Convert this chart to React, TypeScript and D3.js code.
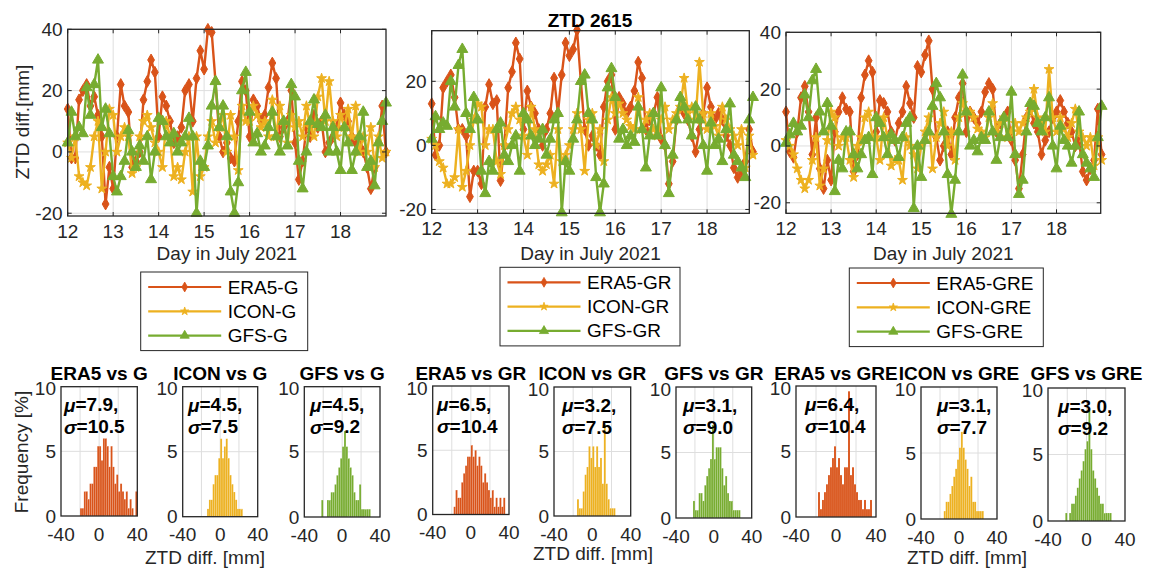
import React from "react";
import * as d3 from "d3";

// ---------------- DATA ----------------
const startDay = 12;
const stepHours = 2;
const dayTicks = [12, 13, 14, 15, 16, 17, 18];
const panelNames = ["G", "GR", "GRE"];
const modelNames = ["ERA5", "ICON", "GFS"];

// ZTD differences [mm], every 2 hours from 12 July 00:00
const era5G = [14,-2,-2,17,20,22,15,18,12,5, -17,-5,-12,5,22,15,13,-5,-3,0, 17,23,30,26,5,18,15,10,3,5, 8,20,22,10,24,33,27,40,39,23, 5,0,3,-2,-3,10,23,20,5,17, 15,10,12,21,29,24,5,8,10,20, 3,-9,-3,8,5,12,8,10,0,3, 5,8,16,12,10,5,3,2,0,-5, -12,-5,3,15,0];
const iconG = [3,-2,5,-8,-10,-11,-5,5,10,-12, 0,14,12,0,5,8,5,-7,-5,5, 10,12,8,3,0,-5,10,5,-8,-5, -9,0,5,-13,5,-8,-5,5,10,3, 8,12,0,12,5,-6,15,10,10,15, 12,8,10,5,17,5,15,10,3,12, 8,10,5,15,8,5,18,24,10,23, 10,5,12,8,14,5,15,0,5,0, 8,-5,5,-2,0];
const gfsG = [3,13,5,8,6,21,12,22,30,8, 14,6,-8,-13,-8,-3,7,0,-5,2, -3,5,-9,0,11,10,5,3,6,0, 3,5,11,5,-20,-3,-5,2,15,23, 8,15,5,-13,-20,-10,20,26,13,3, 6,0,2,8,13,5,0,10,2,22, 18,-3,-12,0,10,17,9,8,12,0, 8,0,-6,8,3,-6,0,5,13,-5, -3,-11,3,10,16];

const era5GR = [13,-3,0,18,20,22,15,5,5,3, -16,-8,-8,-12,12,19,13,14,-11,0, 18,23,32,27,5,17,12,10,5,0, 5,10,21,10,22,32,28,30,36,20, 5,0,3,0,-3,12,20,22,5,15, 13,10,12,17,26,21,5,8,10,15, 2,0,-12,-5,8,12,10,8,3,-2, 5,10,18,12,8,10,8,3,0,-7, -10,-8,-5,5,-2];
const iconGR = [2,0,-5,-7,-12,-12,-10,5,-13,-8, 0,8,13,12,0,5,5,-5,-9,0, 5,10,12,8,3,-3,12,5,-6,-8, -6,-3,-12,5,-5,-3,0,5,10,5, -8,8,10,0,5,-5,8,15,10,13, 10,8,6,5,15,5,8,10,5,3, 8,12,5,8,10,12,21,10,12,8, 26,10,5,10,6,3,12,8,5,3, 0,5,-7,3,-3];
const gfsGR = [2,9,5,7,6,20,12,25,30,10, 5,15,8,-8,-15,-5,-8,5,7,-3, -5,0,3,-8,10,8,3,0,2,5, -3,2,8,10,-21,-5,-8,2,8,20, 22,10,8,-10,-21,-12,18,24,15,2, 5,0,3,1,12,5,-7,3,10,3, 18,0,-15,-3,8,15,12,8,3,12, 8,0,-8,7,0,2,-5,5,13,-3, -5,-7,-10,8,15];

const era5GRE = [12,-2,-4,5,17,21,12,-3,10,-8, -15,-5,-12,5,12,17,13,12,-9,-3, 17,25,30,26,5,16,15,12,5,2, 8,12,21,15,10,28,26,32,37,20, 3,-5,0,5,-3,10,17,22,5,12, 10,8,12,19,22,20,5,8,10,12, 2,-5,-15,-3,10,13,8,5,-3,2, 5,10,12,16,12,8,5,0,2,-9, -12,-8,-5,13,-3];
const iconGRE = [2,0,-3,-8,-12,-15,-12,-5,3,-14, -8,2,12,10,0,3,3,-5,-11,0, 3,10,12,3,3,-5,10,3,-7,-5, -5,-12,3,0,-3,-8,0,5,10,-8, 3,8,12,0,5,-5,10,15,12,12, 10,6,5,3,10,15,5,8,10,3, 5,8,5,8,10,12,20,10,8,5, 27,10,5,10,6,3,8,13,5,3, 0,3,-7,3,-5];
const gfsGRE = [1,4,8,5,7,18,10,23,27,12, 5,15,7,-16,-5,-8,5,5,-3,-8, -3,2,3,-10,10,8,3,-3,4,2, -4,3,8,10,-22,0,-11,2,5,14, 22,17,5,-10,-24,-12,5,25,12,0, 2,-2,3,2,12,5,-5,3,10,3, 19,-3,-17,-12,5,15,14,8,5,10, 17,0,-8,7,2,0,-6,0,12,-3, -6,-8,-11,3,14];

// Histograms: frequency [%] in 2 mm bins, first bin lower edge given
const histBinWidth = 2;
const histStartEdges = [[-20, -14, -22], [-18, -16, -22], [-18, -16, -22]];
const histEra5G = [0.6,0.6,1.9,1.9,1.3,2.5,2.5,3.8,3.8,5.4, 5.4,4.3,6.0,6.0,5.4,3.8,5.4,3.8,2.5,3.2, 1.9,2.5,1.9,1.3,1.9,0.6,1.3,0.6,0,1.9];
const histIconG = [0.6,1.3,1.3,2.5,3.2,3.2,4.5,6.0,4.5,5.4, 6.0,4.5,3.2,2.5,1.9,1.3,0.6,0.6,0.6];
const histGfsG = [1.3,0,0,1.3,1.3,1.9,1.9,2.5,3.2,3.8, 4.5,5.4,6.6,5.4,4.5,3.8,3.2,1.9,1.3,1.3, 2.5,0.6,0.6,0.6,0.6,0.6];
const histEra5GR = [0.6,1.9,1.3,1.3,2.5,3.2,3.8,4.5,4.5,5.4, 4.5,5.0,3.8,4.5,3.8,2.5,3.2,2.5,1.9,1.3, 1.9,0.6,1.3,0.6,1.3,0.6,1.3];
const histIconGR = [1.3,0.6,0.6,1.9,3.2,3.8,5.4,4.5,5.4,3.8, 5.4,3.8,4.5,2.5,7.1,2.5,1.3,0.6,0.6,0.6];
const histGfsGR = [1.3,0.6,0.6,1.9,1.9,1.3,2.5,3.2,3.8,4.5, 7.1,4.5,5.4,5.4,5.4,3.8,2.5,3.2,1.9,1.3, 1.3,0.6,0.6,0.6,0.6];
const histEra5GRE = [1.9,0.6,1.3,1.9,2.5,3.2,3.8,4.5,5.4,3.8, 4.5,3.2,2.5,3.8,3.8,9.6,3.2,3.8,2.5,1.9, 1.3,1.3,0.6,1.3,0.6,0.6,1.3];
const histIconGRE = [0.6,1.3,1.3,1.9,2.5,3.2,3.8,4.5,5.4,6.6, 5.4,4.5,3.8,2.5,3.2,1.3,1.3,0.6,0.6,0.6,0.6];
const histGfsGRE = [0.6,0,0.6,1.3,1.3,1.9,2.5,3.2,3.8,4.5, 5.4,6.0,8.3,5.4,3.8,3.2,2.5,1.9,1.3,1.3, 0.6,0.6,0.6,0.6];

const histMu = [[7.9, 4.5, 4.5], [6.5, 3.2, 3.1], [6.4, 3.1, 3.0]];
const histSigma = [[10.5, 7.5, 9.2], [10.4, 7.5, 9.0], [10.4, 7.7, 9.2]];
const histXTicks = [-40, 0, 40];
const histXGrid = [-20, 0, 20];
const histYTicks = [0, 5, 10];

// ---------------- STYLE / LAYOUT ----------------
const FONT = "'Liberation Sans', Arial, Helvetica, sans-serif";
const AX = "#262626";
const GRID = "#dedede";
const COLORS = ["#D95319", "#EDB120", "#77AC30"];
const FS = 19;

const topSeries = [
  [era5G, iconG, gfsG],
  [era5GR, iconGR, gfsGR],
  [era5GRE, iconGRE, gfsGRE],
];
const histData = [
  [histEra5G, histIconG, histGfsG],
  [histEra5GR, histIconGR, histGfsGR],
  [histEra5GRE, histIconGRE, histGfsGRE],
];

const topBoxes = [
  { l: 67.7, r: 386, t: 29.3, b: 216, xMax: 19.0, yd: [-20.9, 40], yt: [-20, 0, 20, 40] },
  { l: 431.7, r: 749.3, t: 30.7, b: 213.3, xMax: 18.92, yd: [-21.2, 35.8], yt: [-20, 0, 20] },
  { l: 786, r: 1100.7, t: 32.3, b: 213.3, xMax: 18.98, yd: [-23.7, 40], yt: [-20, 0, 20, 40] },
];
const legendBoxes = [
  { l: 140.7, t: 272, w: 167 },
  { l: 500, t: 267.3, w: 180 },
  { l: 849.3, t: 268, w: 194 },
];
const histBoxes = [
  [{ l: 61, r: 137.3, t: 386.7, b: 516, tx: 64 }, { l: 182.7, r: 257.7, t: 386.7, b: 516.7, tx: 188 }, { l: 304.3, r: 380, t: 386.7, b: 517, tx: 310 }],
  [{ l: 432.7, r: 509, t: 386, b: 514.5, tx: 437 }, { l: 554, r: 630.7, t: 387, b: 516, tx: 562 }, { l: 676, r: 751.7, t: 387, b: 518, tx: 683 }],
  [{ l: 796, r: 876, t: 386, b: 517, tx: 805 }, { l: 921, r: 997, t: 387, b: 519, tx: 937 }, { l: 1048, r: 1125, t: 388, b: 521, tx: 1058 }],
];
const groupXLabels = [{ x: 205, y: 557 }, { x: 593, y: 553 }, { x: 967, y: 557 }];

const symbolTypes = [d3.symbolDiamond, d3.symbolStar, d3.symbolTriangle];
const symbolSizes = [40, 30, 52];

function marker(k: number, scale = 1) {
  return d3.symbol(symbolTypes[k], symbolSizes[k] * scale)() as string;
}

function TopPanel({ p }: { p: number }) {
  const box = topBoxes[p];
  const x = d3.scaleLinear().domain([startDay, box.xMax]).range([box.l, box.r]);
  const y = d3.scaleLinear().domain(box.yd).range([box.b, box.t]);
  const tOf = (i: number) => startDay + (i * stepHours) / 24;
  const line = d3
    .line<number>()
    .x((_, i) => x(tOf(i)))
    .y((d) => y(d));
  return (
    <g>
      {dayTicks.slice(1).map((d) => (
        <line key={"gx" + d} x1={x(d)} x2={x(d)} y1={box.t} y2={box.b} stroke={GRID} strokeWidth={1} />
      ))}
      {box.yt.map((v) => (
        <line key={"gy" + v} x1={box.l} x2={box.r} y1={y(v)} y2={y(v)} stroke={GRID} strokeWidth={1} />
      ))}
      {topSeries[p].map((s, k) => (
        <g key={"s" + k}>
          <path d={line(s) as string} fill="none" stroke={COLORS[k]} strokeWidth={2.4} strokeLinejoin="round" />
          {s.map((v, i) => (
            <path key={i} d={marker(k)} transform={`translate(${x(tOf(i))},${y(v)})`} fill={COLORS[k]} stroke={COLORS[k]} strokeWidth={1} />
          ))}
        </g>
      ))}
      <rect x={box.l} y={box.t} width={box.r - box.l} height={box.b - box.t} fill="none" stroke={AX} strokeWidth={1.3} />
      {dayTicks.map((d) => (
        <g key={"tx" + d}>
          <line x1={x(d)} x2={x(d)} y1={box.b} y2={box.b - 4} stroke={AX} />
          <line x1={x(d)} x2={x(d)} y1={box.t} y2={box.t + 4} stroke={AX} />
          <text x={x(d)} y={box.b + 15} textAnchor="middle" dominantBaseline="central" fontSize={FS} fill={AX}>
            {d}
          </text>
        </g>
      ))}
      {box.yt.map((v) => (
        <g key={"ty" + v}>
          <line x1={box.l} x2={box.l + 4} y1={y(v)} y2={y(v)} stroke={AX} />
          <line x1={box.r} x2={box.r - 4} y1={y(v)} y2={y(v)} stroke={AX} />
          <text x={box.l - 5} y={y(v)} textAnchor="end" dominantBaseline="central" fontSize={FS} fill={AX}>
            {v}
          </text>
        </g>
      ))}
      <text x={(box.l + box.r) / 2} y={253} textAnchor="middle" dominantBaseline="central" fontSize={FS} fill={AX}>
        Day in July 2021
      </text>
    </g>
  );
}

function Legend({ p }: { p: number }) {
  const lb = legendBoxes[p];
  const rowGap = 24.3;
  const h = 15 * 2 + rowGap * 2;
  return (
    <g>
      <rect x={lb.l} y={lb.t} width={lb.w} height={h} fill="#fff" stroke={AX} strokeWidth={1} />
      {modelNames.map((m, k) => {
        const cy = lb.t + 15 + k * rowGap;
        return (
          <g key={m}>
            <line x1={lb.l + 7.5} x2={lb.l + 80.5} y1={cy} y2={cy} stroke={COLORS[k]} strokeWidth={2.2} />
            <path d={marker(k, 0.7)} transform={`translate(${lb.l + 44},${cy})`} fill={COLORS[k]} stroke={COLORS[k]} strokeWidth={0.8} />
            <text x={lb.l + 87} y={cy} dominantBaseline="central" fontSize={FS} fill="#000">
              {`${m}-${panelNames[p]}`}
            </text>
          </g>
        );
      })}
    </g>
  );
}

function Hist({ g, k }: { g: number; k: number }) {
  const hb = histBoxes[g][k];
  const x = d3.scaleLinear().domain([-40, 40]).range([hb.l, hb.r]);
  const y = d3.scaleLinear().domain([0, 10]).range([hb.b, hb.t]);
  const vals = histData[g][k];
  const start = histStartEdges[g][k];
  return (
    <g>
      {histXGrid.map((v) => (
        <line key={"gx" + v} x1={x(v)} x2={x(v)} y1={hb.t} y2={hb.b} stroke={GRID} />
      ))}
      <line x1={hb.l} x2={hb.r} y1={y(5)} y2={y(5)} stroke={GRID} />
      {vals.map((v, i) =>
        v > 0 ? (
          <rect
            key={i}
            x={x(start + i * histBinWidth)}
            width={x(start + (i + 1) * histBinWidth) - x(start + i * histBinWidth)}
            y={y(v)}
            height={y(0) - y(v)}
            fill={COLORS[k]}
            stroke="rgba(255,255,255,0.3)"
            strokeWidth={0.4}
          />
        ) : null
      )}
      <rect x={hb.l} y={hb.t} width={hb.r - hb.l} height={hb.b - hb.t} fill="none" stroke={AX} strokeWidth={1.3} />
      {histXTicks.map((v) => (
        <text key={"tx" + v} x={x(v)} y={hb.b + 18} textAnchor="middle" dominantBaseline="central" fontSize={FS} fill={AX}>
          {v}
        </text>
      ))}
      {histYTicks.map((v) => (
        <text key={"ty" + v} x={hb.l - 5} y={v === 10 ? y(v) + 2 : y(v)} textAnchor="end" dominantBaseline="central" fontSize={FS} fill={AX}>
          {v}
        </text>
      ))}
      <text x={hb.tx} y={hb.t + 18} dominantBaseline="central" fontSize={FS} fontWeight="bold" fill="#000">
        <tspan fontStyle="italic">μ</tspan>
        {`=${histMu[g][k].toFixed(1)},`}
      </text>
      <text x={hb.tx} y={hb.t + 40} dominantBaseline="central" fontSize={FS} fontWeight="bold" fill="#000">
        <tspan fontStyle="italic">σ</tspan>
        {`=${histSigma[g][k].toFixed(1)}`}
      </text>
    </g>
  );
}

function HistTitle({ g, k }: { g: number; k: number }) {
  const hb = histBoxes[g][k];
  return (
    <text x={(hb.l + hb.r) / 2} y={373.5} textAnchor="middle" dominantBaseline="central" fontSize={FS} fontWeight="bold" fill="#000">
      {`${modelNames[k]} vs ${panelNames[g]}`}
    </text>
  );
}

export default function App() {
  return (
    <svg
      width={1153}
      height={571}
      viewBox="0 0 1153 571"
      style={{ position: "absolute", left: 0, top: 0, background: "#fff" }}
      fontFamily={FONT}
    >
      <rect x={0} y={0} width={1153} height={571} fill="#fff" />
      {[0, 1, 2].map((p) => (
        <TopPanel key={"tp" + p} p={p} />
      ))}
      <text x={590} y={20.5} textAnchor="middle" dominantBaseline="central" fontSize={FS} fontWeight="bold" fill="#000">
        ZTD 2615
      </text>
      <text transform="translate(22.7,122) rotate(-90)" textAnchor="middle" dominantBaseline="central" fontSize={FS} fill={AX}>
        ZTD diff.[mm]
      </text>
      {[0, 1, 2].map((p) => (
        <Legend key={"lg" + p} p={p} />
      ))}
      {[0, 1, 2].map((g) => [0, 1, 2].map((k) => <Hist key={`h${g}${k}`} g={g} k={k} />))}
      {[0, 1, 2].map((g) => [0, 1, 2].map((k) => <HistTitle key={`ht${g}${k}`} g={g} k={k} />))}
      <text transform="translate(21.7,452) rotate(-90)" textAnchor="middle" dominantBaseline="central" fontSize={FS} fill={AX}>
        Frequency [%]
      </text>
      {groupXLabels.map((gl, i) => (
        <text key={"gl" + i} x={gl.x} y={gl.y} textAnchor="middle" dominantBaseline="central" fontSize={FS} fill={AX}>
          ZTD diff. [mm]
        </text>
      ))}
    </svg>
  );
}
